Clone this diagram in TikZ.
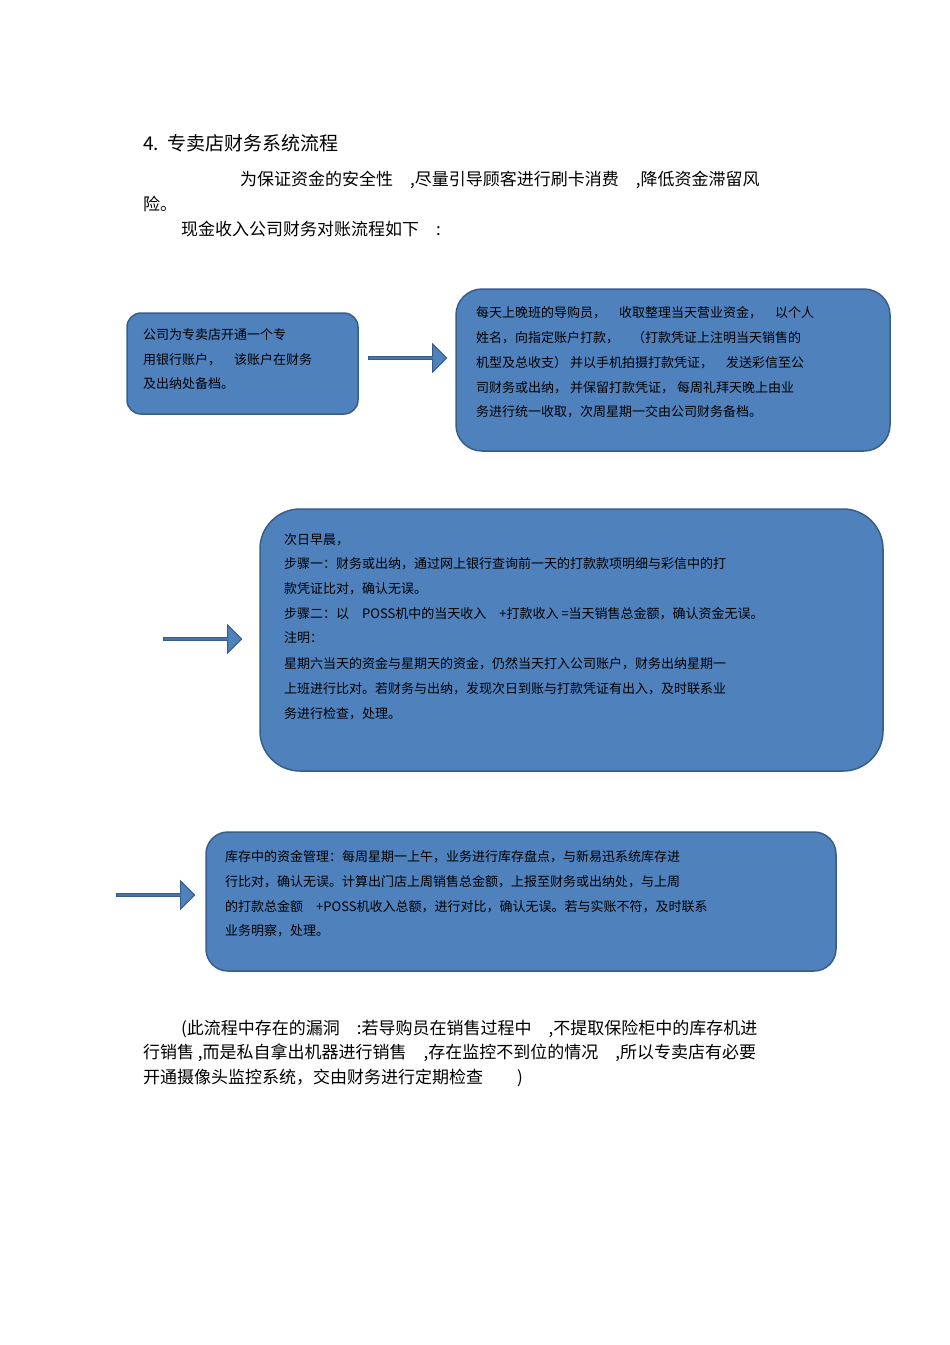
\documentclass[tikz,border=0pt]{standalone}
\usepackage{fontspec}
\setmainfont{Noto Sans CJK SC}
\usetikzlibrary{shapes.arrows}
\definecolor{bfill}{HTML}{4F81BD}
\definecolor{bline}{HTML}{385D8A}
\tikzset{x=1pt,y=-1pt,
 box/.style={draw=bline,line width=1.5pt,fill=bfill,rounded corners=#1},
 bt/.style={anchor=west,inner sep=0pt,font=\fontsize{13}{15}\selectfont},
 pt/.style={anchor=west,inner sep=0pt,font=\fontsize{17}{20}\selectfont},
 barrow/.style={single arrow,draw=bline,fill=bfill,line width=1.2pt,minimum height=78pt,minimum width=28pt,single arrow head extend=6pt,inner sep=0pt,anchor=west}}
\begin{document}
\begin{tikzpicture}
\useasboundingbox (0,0) rectangle (950,1345);
\node[pt,font=\fontsize{19}{22}\selectfont] (t) at (143,143) {4.\ \ 专卖店财务系统流程};
\node[pt] (p1) at (240,180) {为保证资金的安全性\quad ,尽量引导顾客进行刷卡消费\quad ,降低资金滞留风};
\node[pt] (p2) at (143,204) {险。};
\node[pt] (p3) at (181,229) {现金收入公司财务对账流程如下\quad :};

\draw[box=14pt] (127,313) rectangle (358,414);
\node[bt] (a1) at (143,335) {公司为专卖店开通一个专};
\node[bt] (a2) at (143,360) {用银行账户，\quad 该账户在财务};
\node[bt] (a3) at (143,384) {及出纳处备档。};
\node[barrow] (r1) at (368,358) {};

\draw[box=26pt] (456,289) rectangle (890,451);
\node[bt] (b1) at (476,313) {每天上晚班的导购员，\quad 收取整理当天营业资金，\quad 以个人};
\node[bt] (b2) at (476,338) {姓名，向指定账户打款，\quad （打款凭证上注明当天销售的};
\node[bt] (b3) at (476,363) {机型及总收支）\ 并以手机拍摄打款凭证，\quad 发送彩信至公};
\node[bt] (b4) at (476,388) {司财务或出纳，\ 并保留打款凭证，\ 每周礼拜天晚上由业};
\node[bt] (b5) at (476,412) {务进行统一收取，次周星期一交由公司财务备档。};

\node[barrow] (r2) at (163,639) {};
\draw[box=40pt] (260,509) rectangle (883,771);
\node[bt] (c1) at (284,540) {次日早晨，};
\node[bt] (c2) at (284,564) {步骤一：财务或出纳，通过网上银行查询前一天的打款款项明细与彩信中的打};
\node[bt] (c3) at (284,589) {款凭证比对，确认无误。};
\node[bt] (c4) at (284,614) {步骤二：以\quad POSS机中的当天收入\quad +打款收入\ =当天销售总金额，确认资金无误。};
\node[bt] (c5) at (284,638) {注明：};
\node[bt] (c6) at (284,664) {星期六当天的资金与星期天的资金，仍然当天打入公司账户，财务出纳星期一};
\node[bt] (c7) at (284,689) {上班进行比对。若财务与出纳，发现次日到账与打款凭证有出入，及时联系业};
\node[bt] (c8) at (284,714) {务进行检查，处理。};

\node[barrow] (r3) at (116,895) {};
\draw[box=22pt] (206,832) rectangle (836,971);
\node[bt] (d1) at (225,857) {库存中的资金管理：每周星期一上午，业务进行库存盘点，与新易迅系统库存进};
\node[bt] (d2) at (225,882) {行比对，确认无误。计算出门店上周销售总金额，上报至财务或出纳处，与上周};
\node[bt] (d3) at (225,907) {的打款总金额\quad +POSS机收入总额，进行对比，确认无误。若与实账不符，及时联系};
\node[bt] (d4) at (225,931) {业务明察，处理。};

\node[pt] (q1) at (181,1029) {(此流程中存在的漏洞\quad :若导购员在销售过程中\quad ,不提取保险柜中的库存机进};
\node[pt] (q2) at (143,1053) {行销售 ,而是私自拿出机器进行销售\quad ,存在监控不到位的情况\quad ,所以专卖店有必要};
\node[pt] (q3) at (143,1078) {开通摄像头监控系统，交由财务进行定期检查\qquad )};
\end{tikzpicture}
\end{document}
